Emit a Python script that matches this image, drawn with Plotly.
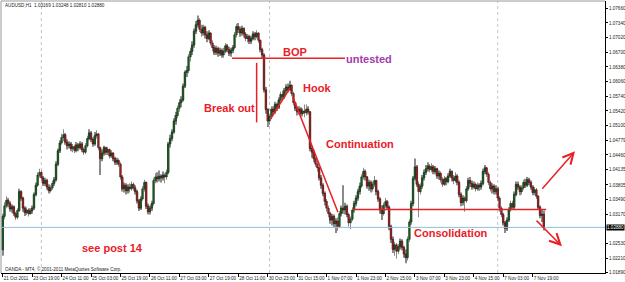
import plotly.graph_objects as go

# ---------------- data (AUDUSD H1) ----------------
first_open = 1.0239
closes = [
    1.0312, 1.0335, 1.0347, 1.0340, 1.0328, 1.0333, 1.0318, 1.0310, 1.0325, 1.0366, 1.0352, 1.0330, 1.0320, 1.0326, 1.0318, 1.0324, 1.0330,
    1.0360, 1.0380, 1.0402, 1.0408, 1.0396, 1.0384, 1.0390, 1.0376, 1.0368, 1.0374, 1.0384, 1.0392, 1.0426, 1.0455, 1.0472, 1.0484, 1.0490,
    1.0474, 1.0466, 1.0470, 1.0460, 1.0464, 1.0456, 1.0468, 1.0462, 1.0470, 1.0458, 1.0452, 1.0466,
    1.0482, 1.0494, 1.0480, 1.0470, 1.0488, 1.0492, 1.0462, 1.0438,
    1.0450, 1.0462, 1.0452, 1.0458, 1.0444, 1.0450, 1.0438, 1.0430, 1.0434, 1.0426,
    1.0398, 1.0372, 1.0380, 1.0368, 1.0376, 1.0372, 1.0382, 1.0374, 1.0366,
    1.0346, 1.0330, 1.0350, 1.0372, 1.0386, 1.0334, 1.0322, 1.0330, 1.0340,
    1.0390, 1.0398, 1.0394, 1.0400, 1.0396, 1.0402, 1.0398, 1.0408,
    1.0470, 1.0482, 1.0496, 1.0520, 1.0532, 1.0548, 1.0560, 1.0566, 1.0596, 1.0626, 1.0630, 1.0660, 1.0672, 1.0686, 1.0716, 1.0730, 1.0740,
    1.0720, 1.0712, 1.0724, 1.0708, 1.0700, 1.0712, 1.0690, 1.0680, 1.0670, 1.0678, 1.0668, 1.0674, 1.0664, 1.0672, 1.0684, 1.0676, 1.0668, 1.0674, 1.0680,
    1.0708, 1.0726, 1.0720, 1.0712, 1.0722, 1.0710, 1.0700, 1.0704, 1.0694, 1.0700, 1.0710, 1.0704, 1.0712, 1.0696, 1.0676, 1.0664,
    1.0588, 1.0545, 1.0520, 1.0530, 1.0546, 1.0540, 1.0556, 1.0550, 1.0566, 1.0578, 1.0572, 1.0586, 1.0594, 1.0588, 1.0598, 1.0580, 1.0560,
    1.0548, 1.0540, 1.0546, 1.0536, 1.0542, 1.0538, 1.0546, 1.0540,
    1.0460, 1.0452, 1.0438, 1.0426, 1.0418, 1.0396, 1.0380, 1.0362, 1.0345, 1.0330, 1.0318, 1.0304, 1.0312, 1.0296, 1.0302, 1.0290,
    1.0318, 1.0330, 1.0326, 1.0334, 1.0316, 1.0298, 1.0306, 1.0326, 1.0340, 1.0352, 1.0366, 1.0378, 1.0398, 1.0410, 1.0398, 1.0378, 1.0386, 1.0372, 1.0382, 1.0390, 1.0366,
    1.0350, 1.0326, 1.0318, 1.0336, 1.0344, 1.0332, 1.0290, 1.0262, 1.0240, 1.0250, 1.0236, 1.0246, 1.0258, 1.0244, 1.0230, 1.0222, 1.0262, 1.0300, 1.0340,
    1.0395, 1.0420, 1.0382, 1.0366, 1.0378, 1.0396, 1.0408, 1.0416, 1.0422, 1.0414, 1.0420, 1.0410, 1.0416, 1.0400, 1.0406, 1.0392, 1.0382, 1.0394, 1.0388, 1.0400, 1.0410, 1.0396, 1.0390, 1.0400,
    1.0386, 1.0360, 1.0342, 1.0352, 1.0346, 1.0372, 1.0390, 1.0384, 1.0376, 1.0382, 1.0372, 1.0380, 1.0376, 1.0384, 1.0410, 1.0418, 1.0404, 1.0386, 1.0372, 1.0378, 1.0366, 1.0372,
    1.0352, 1.0330, 1.0316, 1.0298, 1.0286, 1.0304, 1.0326, 1.0340, 1.0332, 1.0360, 1.0382, 1.0376, 1.0366, 1.0374, 1.0386, 1.0380, 1.0392, 1.0386, 1.0376, 1.0364, 1.0370, 1.0356, 1.0332, 1.0314, 1.0317, 1.0288,
]
highs = [
    1.0318, 1.0343, 1.0356, 1.0352, 1.0345, 1.0338, 1.0336, 1.0322, 1.0330, 1.0372, 1.0369, 1.0355, 1.0334, 1.0332, 1.0330, 1.0330, 1.0336,
    1.0364, 1.0386, 1.0408, 1.0416, 1.0412, 1.0400, 1.0396, 1.0394, 1.0382, 1.0380, 1.0390, 1.0398, 1.0432, 1.0460, 1.0478, 1.0492, 1.0502,
    1.0494, 1.0480, 1.0476, 1.0474, 1.0470, 1.0468, 1.0474, 1.0472, 1.0476, 1.0474, 1.0462, 1.0472,
    1.0488, 1.0502, 1.0498, 1.0484, 1.0496, 1.0500, 1.0494, 1.0464,
    1.0458, 1.0466, 1.0464, 1.0464, 1.0460, 1.0456, 1.0452, 1.0442, 1.0440, 1.0438,
    1.0430, 1.0402, 1.0386, 1.0384, 1.0382, 1.0384, 1.0388, 1.0386, 1.0380,
    1.0370, 1.0350, 1.0356, 1.0378, 1.0392, 1.0388, 1.0340, 1.0336, 1.0346,
    1.0396, 1.0406, 1.0408, 1.0412, 1.0404, 1.0410, 1.0406, 1.0414,
    1.0474, 1.0490, 1.0502, 1.0526, 1.0540, 1.0554, 1.0568, 1.0574, 1.0602, 1.0630, 1.0640, 1.0666, 1.0680, 1.0694, 1.0722, 1.0738, 1.0750,
    1.0744, 1.0730, 1.0730, 1.0728, 1.0716, 1.0718, 1.0714, 1.0696, 1.0686, 1.0684, 1.0682, 1.0680, 1.0678, 1.0680, 1.0690, 1.0688, 1.0682, 1.0680, 1.0686,
    1.0714, 1.0732, 1.0734, 1.0726, 1.0728, 1.0724, 1.0714, 1.0710, 1.0708, 1.0706, 1.0716, 1.0714, 1.0718, 1.0714, 1.0698, 1.0680,
    1.0668, 1.0594, 1.0548, 1.0536, 1.0552, 1.0552, 1.0562, 1.0560, 1.0572, 1.0584, 1.0586, 1.0592, 1.0600, 1.0602, 1.0608, 1.0600, 1.0584,
    1.0562, 1.0552, 1.0552, 1.0550, 1.0548, 1.0556, 1.0556, 1.0552,
    1.0542, 1.0466, 1.0456, 1.0442, 1.0432, 1.0420, 1.0402, 1.0384, 1.0366, 1.0350, 1.0336, 1.0322, 1.0318, 1.0316, 1.0308, 1.0310,
    1.0324, 1.0336, 1.0380, 1.0342, 1.0338, 1.0320, 1.0312, 1.0332, 1.0346, 1.0358, 1.0372, 1.0386, 1.0404, 1.0418, 1.0414, 1.0400, 1.0392, 1.0390, 1.0388, 1.0400, 1.0392,
    1.0370, 1.0354, 1.0336, 1.0342, 1.0352, 1.0348, 1.0336, 1.0294, 1.0268, 1.0256, 1.0254, 1.0252, 1.0264, 1.0262, 1.0248, 1.0240, 1.0268, 1.0306, 1.0346,
    1.0400, 1.0438, 1.0424, 1.0388, 1.0384, 1.0402, 1.0414, 1.0424, 1.0430, 1.0426, 1.0428, 1.0424, 1.0422, 1.0418, 1.0412, 1.0410, 1.0398, 1.0400, 1.0398, 1.0406, 1.0416, 1.0412, 1.0402, 1.0408,
    1.0404, 1.0390, 1.0364, 1.0358, 1.0356, 1.0378, 1.0396, 1.0398, 1.0390, 1.0388, 1.0386, 1.0386, 1.0384, 1.0390, 1.0416, 1.0424, 1.0420, 1.0408, 1.0390, 1.0384, 1.0382, 1.0380,
    1.0376, 1.0356, 1.0334, 1.0320, 1.0302, 1.0310, 1.0332, 1.0346, 1.0346, 1.0366, 1.0388, 1.0388, 1.0380, 1.0380, 1.0392, 1.0394, 1.0398, 1.0396, 1.0390, 1.0380, 1.0376, 1.0374, 1.0358, 1.0336, 1.0326, 1.0325,
]
lows = [
    1.0226, 1.0306, 1.0330, 1.0332, 1.0322, 1.0320, 1.0313, 1.0304, 1.0306, 1.0322, 1.0346, 1.0322, 1.0313, 1.0315, 1.0312, 1.0316, 1.0318,
    1.0326, 1.0356, 1.0376, 1.0396, 1.0390, 1.0378, 1.0378, 1.0370, 1.0362, 1.0364, 1.0370, 1.0378, 1.0388, 1.0422, 1.0450, 1.0468, 1.0476,
    1.0468, 1.0458, 1.0460, 1.0454, 1.0452, 1.0450, 1.0452, 1.0454, 1.0458, 1.0452, 1.0446, 1.0448,
    1.0462, 1.0478, 1.0474, 1.0464, 1.0466, 1.0482, 1.0456, 1.0402,
    1.0432, 1.0444, 1.0446, 1.0446, 1.0438, 1.0440, 1.0432, 1.0424, 1.0424, 1.0420,
    1.0392, 1.0366, 1.0364, 1.0360, 1.0362, 1.0364, 1.0368, 1.0368, 1.0360,
    1.0340, 1.0324, 1.0326, 1.0346, 1.0366, 1.0328, 1.0316, 1.0316, 1.0324,
    1.0336, 1.0384, 1.0386, 1.0388, 1.0386, 1.0390, 1.0384, 1.0392,
    1.0404, 1.0462, 1.0476, 1.0492, 1.0512, 1.0526, 1.0540, 1.0550, 1.0562, 1.0592, 1.0616, 1.0624, 1.0650, 1.0664, 1.0680, 1.0710, 1.0724,
    1.0714, 1.0704, 1.0706, 1.0700, 1.0692, 1.0696, 1.0684, 1.0672, 1.0664, 1.0664, 1.0660, 1.0662, 1.0658, 1.0658, 1.0668, 1.0670, 1.0662, 1.0660, 1.0668,
    1.0676, 1.0702, 1.0712, 1.0704, 1.0706, 1.0702, 1.0694, 1.0692, 1.0688, 1.0688, 1.0696, 1.0696, 1.0700, 1.0690, 1.0670, 1.0656,
    1.0582, 1.0536, 1.0507, 1.0512, 1.0524, 1.0532, 1.0536, 1.0542, 1.0546, 1.0560, 1.0566, 1.0568, 1.0578, 1.0582, 1.0586, 1.0574, 1.0554,
    1.0542, 1.0532, 1.0534, 1.0530, 1.0530, 1.0528, 1.0532, 1.0534,
    1.0454, 1.0440, 1.0430, 1.0420, 1.0410, 1.0390, 1.0372, 1.0356, 1.0336, 1.0322, 1.0310, 1.0296, 1.0292, 1.0288, 1.0276, 1.0280,
    1.0286, 1.0312, 1.0318, 1.0316, 1.0310, 1.0290, 1.0284, 1.0302, 1.0320, 1.0334, 1.0346, 1.0360, 1.0374, 1.0392, 1.0390, 1.0372, 1.0368, 1.0364, 1.0366, 1.0376, 1.0358,
    1.0344, 1.0318, 1.0304, 1.0314, 1.0330, 1.0326, 1.0282, 1.0254, 1.0232, 1.0226, 1.0220, 1.0230, 1.0240, 1.0238, 1.0222, 1.0210, 1.0216, 1.0256, 1.0294,
    1.0334, 1.0390, 1.0376, 1.0310, 1.0360, 1.0372, 1.0390, 1.0402, 1.0410, 1.0408, 1.0408, 1.0404, 1.0404, 1.0394, 1.0392, 1.0386, 1.0376, 1.0378, 1.0380, 1.0384, 1.0396, 1.0388, 1.0382, 1.0386,
    1.0380, 1.0354, 1.0334, 1.0336, 1.0322, 1.0342, 1.0368, 1.0376, 1.0370, 1.0372, 1.0366, 1.0368, 1.0368, 1.0370, 1.0380, 1.0404, 1.0398, 1.0380, 1.0366, 1.0362, 1.0360, 1.0360,
    1.0346, 1.0322, 1.0310, 1.0292, 1.0276, 1.0280, 1.0300, 1.0322, 1.0326, 1.0328, 1.0356, 1.0370, 1.0358, 1.0360, 1.0370, 1.0374, 1.0376, 1.0380, 1.0370, 1.0358, 1.0358, 1.0350, 1.0326, 1.0308, 1.0300, 1.0281,
]

tick_bars = [0, 16, 32, 48, 64, 80, 96, 112, 128, 144, 160, 176, 192, 208, 224, 240, 256, 272, 288]
tick_labels = ["21 Oct 2011", "23 Oct 19:00", "24 Oct 11:00", "25 Oct 03:00", "25 Oct 19:00",
               "26 Oct 11:00", "27 Oct 03:00", "27 Oct 19:00", "28 Oct 11:00", "30 Oct 23:00",
               "31 Oct 15:00", "1 Nov 07:00", "1 Nov 23:00", "2 Nov 15:00", "3 Nov 07:00",
               "3 Nov 23:00", "4 Nov 15:00", "7 Nov 03:00", "7 Nov 19:00"]
price_ticks = [1.07660, 1.07340, 1.07020, 1.06700, 1.06380, 1.06060, 1.05740, 1.05420, 1.05100,
               1.04779, 1.04460, 1.04135, 1.03805, 1.03490, 1.03170, 1.02530, 1.02210, 1.01890]
price_tick_labels = ["1.07660", "1.07340", "1.07020", "1.06700", "1.06380", "1.06060", "1.05740",
                     "1.05420", "1.05100", "1.04779", "1.04460", "1.04135", "1.03805", "1.03490",
                     "1.03170", "1.02530", "1.02210", "1.01890"]
current_price = 1.02880
header_text = "AUDUSD,H1  1.03169 1.03248 1.02810 1.02880"
week_separators = [21, 145, 269]

# ---------------- annotation geometry (bar index, price) ----------------
bop_line = ([124.6, 186.0], [1.0657, 1.0657])
breakout_line = ([138.0, 138.0], [1.0647, 1.0517])
hook_line = ([145.6, 156.1], [1.0525, 1.0592])
continuation_line = ([157.8, 182.2], [1.0571, 1.0321])
consolidation_line = ([190.4, 295.3], [1.0327, 1.0327])
up_arrow = ((292.5, 1.0369), (311.0, 1.0454))
down_arrow = ((289.3, 1.0306), (303.9, 1.0247))
labels_red = [("BOP", 158.9, 1.0671), ("Break out", 123.0, 1.0548), ("Hook", 170.8, 1.0593),
              ("Continuation", 194.2, 1.0469), ("Consolidation", 243.6, 1.0276),
              ("see post 14", 59.9, 1.0242)]
label_untested = ("untested", 199.1, 1.0656)

# ---------------- build ----------------
N = len(closes)
xs = list(range(N))
opens = [first_open] + closes[:-1]
hi = [max(h, o, c) for h, o, c in zip(highs, opens, closes)]
lo = [min(l, o, c) for l, o, c in zip(lows, opens, closes)]
body_base = [min(o, c) for o, c in zip(opens, closes)]
body_h = [max(abs(c - o), 0.00008) for o, c in zip(opens, closes)]
body_col = ["#12701a" if c >= o else "#c41a1a" for o, c in zip(opens, closes)]

RED = "#ea2027"
FONT = "Liberation Sans, Arial"
fig = go.Figure()
fig.add_trace(go.Bar(x=xs, y=[h - l for h, l in zip(hi, lo)], base=lo, width=0.36,
                     marker=dict(color="#8a8a8a", line=dict(width=0)), hoverinfo="skip"))
fig.add_trace(go.Bar(x=xs, y=body_h, base=body_base, width=0.9,
                     marker=dict(color=body_col, line=dict(color="#111111", width=0.5)), hoverinfo="skip"))

shapes = []
for sx in week_separators:
    shapes.append(dict(type="line", xref="x", yref="paper", x0=sx, x1=sx, y0=0, y1=1,
                       line=dict(color="#c4c4c4", width=1, dash="dot"), layer="below"))
shapes.append(dict(type="line", xref="paper", yref="y", x0=0, x1=1, y0=current_price, y1=current_price,
                   line=dict(color="#8ec1dc", width=1)))
for (lx, ly) in [bop_line, breakout_line, hook_line, continuation_line, consolidation_line]:
    shapes.append(dict(type="line", xref="x", yref="y", x0=lx[0], x1=lx[1], y0=ly[0], y1=ly[1],
                       line=dict(color=RED, width=1.5)))
shapes.append(dict(type="line", xref="paper", yref="paper", x0=0, x1=1, y0=1, y1=1,
                   line=dict(color="#9a9a9a", width=1)))
shapes.append(dict(type="line", xref="paper", yref="paper", x0=0, x1=0, y0=0, y1=1,
                   line=dict(color="#9a9a9a", width=1)))

annotations = []
for (tail, head) in [up_arrow, down_arrow]:
    annotations.append(dict(x=head[0], y=head[1], ax=tail[0], ay=tail[1], xref="x", yref="y",
                            axref="x", ayref="y", text="", showarrow=True, arrowhead=5,
                            arrowsize=1.4, arrowwidth=1.5, arrowcolor=RED))
for (t, tx, ty) in labels_red:
    annotations.append(dict(x=tx, y=ty, text="<b>%s</b>" % t, showarrow=False,
                            font=dict(family=FONT, size=11, color=RED)))
annotations.append(dict(x=label_untested[1], y=label_untested[2], text="<b>%s</b>" % label_untested[0],
                        showarrow=False, font=dict(family=FONT, size=11, color="#a23ab0")))
annotations.append(dict(xref="paper", yref="paper", x=0.004, y=0.985, xanchor="left", yanchor="middle",
                        text=header_text, showarrow=False,
                        font=dict(family=FONT, size=4.6, color="#222")))
annotations.append(dict(xref="paper", yref="paper", x=0.004, y=0.013, xanchor="left", yanchor="middle",
                        text="OANDA - MT4, © 2001-2011 MetaQuotes Software Corp.", showarrow=False,
                        font=dict(family=FONT, size=4.6, color="#222")))
annotations.append(dict(xref="paper", yref="y", x=1.0, y=current_price, xanchor="left", yanchor="middle",
                        xshift=1, text="1.02880", showarrow=False, bgcolor="#000", borderpad=0,
                        font=dict(family=FONT, size=4.6, color="#fff")))

fig.update_layout(
    width=625, height=282, margin=dict(l=1, r=20, t=1, b=9, autoexpand=False),
    paper_bgcolor="white", plot_bgcolor="white", showlegend=False, barmode="overlay",
    shapes=shapes, annotations=annotations,
    xaxis=dict(range=[-0.92, 327.3], showgrid=False, zeroline=False, showline=True, linecolor="#000",
               linewidth=1, ticks="outside", ticklen=3, tickcolor="#000", tickvals=tick_bars,
               ticktext=tick_labels, ticklabelposition="outside right", tickangle=0, automargin=False,
               tickfont=dict(family=FONT, size=4.6, color="#222")),
    yaxis=dict(range=[1.01885, 1.07818], side="right", showgrid=False, zeroline=False, showline=True,
               linecolor="#000", linewidth=1, ticks="outside", ticklen=2, tickcolor="#000",
               tickvals=price_ticks, ticktext=price_tick_labels, automargin=False,
               tickfont=dict(family=FONT, size=4.6, color="#222")),
)

fig.write_html("out.html")
